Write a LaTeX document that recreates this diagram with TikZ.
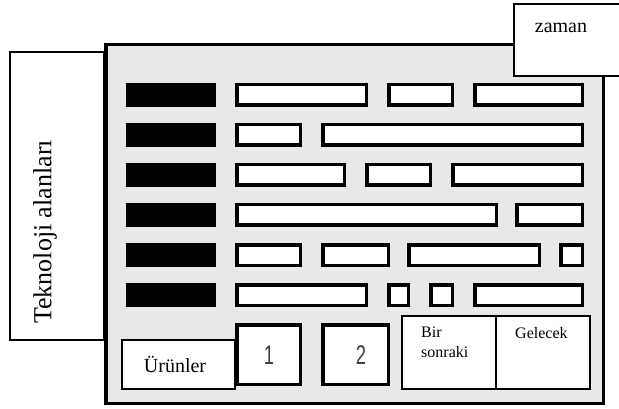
\documentclass[tikz,border=0pt]{standalone}
\usepackage{fontspec}
\setmainfont{Liberation Serif}
\newfontfamily\digitfont{Liberation Sans}
\definecolor{panelgray}{HTML}{E8E8E8}
\definecolor{digitgray}{HTML}{404040}
\begin{document}
\begin{tikzpicture}[x=1pt,y=-1pt,
  thinbox/.style={draw=black, line width=1.8pt, fill=white},
  slot/.style={draw=black, line width=3.5pt, fill=white},
  techbar/.style={fill=black},
  label/.style={inner sep=0pt, font=\fontsize{20}{24}\selectfont},
  smalllabel/.style={inner sep=0pt, font=\fontsize{16}{20}\selectfont, align=left},
  digit/.style={inner sep=0pt, text=digitgray, xscale=0.68,
    font=\digitfont\fontsize{27}{30}\selectfont}]
\useasboundingbox (0,0) rectangle (619,409);

% roadmap panel
\draw[line width=3.5pt, fill=panelgray] (105.75,44.75) rectangle (603.25,403.25);

% technology rows: black heads
\foreach \r in {83,123,163,203,243,283}
  \fill[techbar] (126,\r) rectangle (216,\r+24);

% technology rows: time slots (row top / left / right)
\foreach \r/\a/\b in {
  83/235/368, 83/387/454, 83/473/584,
  123/235/302, 123/321/584,
  163/235/346, 163/365/432, 163/451/584,
  203/235/498, 203/515/584,
  243/235/302, 243/321/390, 243/407/541, 243/559/584,
  283/235/368, 283/387/410, 283/429/454, 283/473/584}
  \draw[slot] (\a+1.75,\r+1.75) rectangle (\b-1.75,\r+22.25);

% product generations
\draw[slot] (236.75,324.75) rectangle (300.25,384.25);
\draw[slot] (322.75,324.75) rectangle (388.25,384.25);
\node[digit] (p1) at (269,355) {1};
\node[digit] (p2) at (361,355) {2};

% side and top labels
\node[thinbox, anchor=north west, minimum width=94, minimum height=288] (tech) at (8.9,50.9) {};
\node[label, rotate=90, font=\fontsize{26}{30}\selectfont] (techtxt) at (45,232) {Teknoloji alanları};

\node[thinbox, anchor=north west, minimum width=106, minimum height=72] (time) at (512.9,2.9) {};
\node[label] (timetxt) at (561,28) {zaman};

\node[thinbox, anchor=north west, minimum width=113, minimum height=49] (prod) at (120.9,338.9) {};
\node[label] (prodtxt) at (175,364) {Ürünler};

% next / future columns
\node[thinbox, anchor=north west, minimum width=94, minimum height=73] (next) at (400.9,314.9) {};
\node[thinbox, anchor=north west, minimum width=94, minimum height=73] (future) at (494.9,314.9) {};
\node[smalllabel, anchor=north west] (nexttxt) at (421,327) {Bir\\sonraki};
\node[smalllabel, anchor=north west] (futuretxt) at (515,327) {Gelecek};
\end{tikzpicture}
\end{document}
